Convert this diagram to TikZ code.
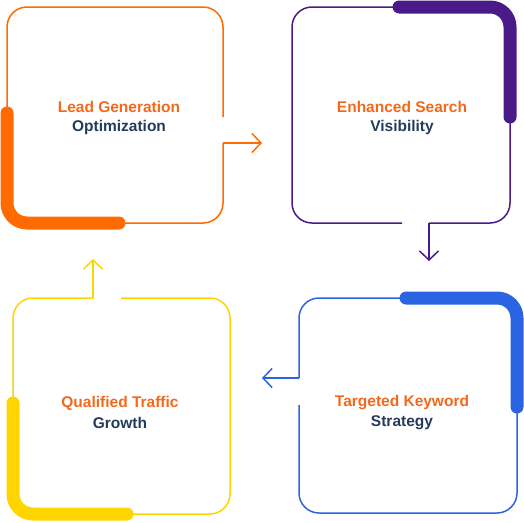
\documentclass[tikz,border=0pt]{standalone}
\usepackage{xcolor}
\usepackage{fontspec}
\setmainfont{Liberation Sans}
\usetikzlibrary{arrows.meta}

\definecolor{laranja}{HTML}{FF6B00}
\definecolor{laranjatxt}{HTML}{F5681A}
\definecolor{roxo}{HTML}{4B1A89}
\definecolor{azul}{HTML}{2B64E3}
\definecolor{amarelo}{HTML}{FFD500}
\definecolor{marinho}{HTML}{243C5C}

\tikzset{
	borda/.style={line width=1.5pt, rounded corners=20pt},
	faixa/.style={line width=13pt, line cap=round, rounded corners=20pt},
	seta/.style={line width=1.5pt, -{Straight Barb[length=9pt,width=19pt,line width=1.5pt]}},
	titulo/.style={text=laranjatxt, font=\fontsize{15.5}{18}\selectfont\bfseries, inner sep=0pt},
	subtitulo/.style={text=marinho, font=\fontsize{15.5}{18}\selectfont\bfseries, inner sep=0pt}
}

\begin{document}
\begin{tikzpicture}[x=1pt,y=-1pt]
	\useasboundingbox (0,0) rectangle (524,522);
	
	% Caixa 1 - laranja
	\draw[borda,laranja] (223,117) -- (223,7) -- (7,7) -- (7,223) -- (223,223) -- (223,143);
	\draw[faixa,laranja] (7,113) -- (7,223) -- (119,223);
	\coordinate (S1) at (223,143);
	\coordinate (E1) at (262,143);
	\draw[seta,laranja] (S1) -- (E1);
	\node[titulo] (T1) at (119,107) {Lead Generation};
	\node[subtitulo] (U1) at (119,127) {Optimization};
	
	% Caixa 2 - roxo
	\draw[borda,roxo] (402,223) -- (292,223) -- (292,7) -- (510,7) -- (510,223) -- (429,223);
	\draw[faixa,roxo] (399,7) -- (510,7) -- (510,117);
	\coordinate (S2) at (429,223);
	\coordinate (E2) at (429,261);
	\draw[seta,roxo] (S2) -- (E2);
	\node[titulo] (T2) at (402,107) {Enhanced Search};
	\node[subtitulo] (U2) at (402,127) {Visibility};
	
	% Caixa 3 - azul
	\draw[borda,azul] (299,405) -- (299,513) -- (517,513) -- (517,298) -- (299,298) -- (299,378);
	\draw[faixa,azul] (406,298) -- (517,298) -- (517,407);
	\coordinate (S3) at (299,378);
	\coordinate (E3) at (262,378);
	\draw[seta,azul] (S3) -- (E3);
	\node[titulo] (T3) at (402,403) {Targeted Keyword};
	\node[subtitulo] (U3) at (402,423) {Strategy};
	
	% Caixa 4 - amarelo
	\draw[borda,amarelo] (121,298) -- (230,298) -- (230,514) -- (13,514) -- (13,298) -- (93,298);
	\draw[faixa,amarelo] (13,403) -- (13,514) -- (127,514);
	\coordinate (S4) at (93,298);
	\coordinate (E4) at (93,259);
	\draw[seta,amarelo] (S4) -- (E4);
	\node[titulo] (T4) at (120,403) {Qualified Traffic};
	\node[subtitulo] (U4) at (120,423) {Growth};
\end{tikzpicture}
\end{document}
